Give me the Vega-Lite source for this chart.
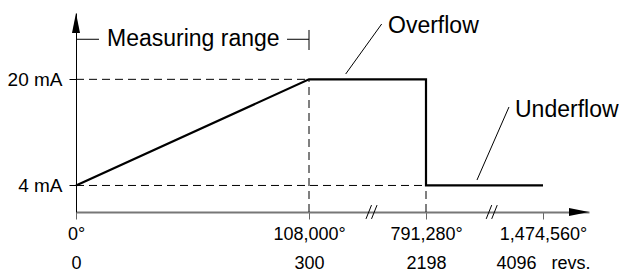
{
  "$schema": "https://vega.github.io/schema/vega-lite/v6.json",
  "autosize": "none",
  "width": 513,
  "height": 199,
  "padding": {"left": 76, "top": 13, "right": 30, "bottom": 59},
  "config": {"view": {"stroke": null}, "font": "Liberation Sans"},
  "datasets": {
    "curve": [
      {"x": 0, "y": 4, "o": 1},
      {"x": 300, "y": 20, "o": 2},
      {"x": 2198, "y": 20, "o": 3},
      {"x": 2198, "y": 4, "o": 4},
      {"x": 4096, "y": 4, "o": 5}
    ],
    "dashed": [
      {"x": 0, "x2": 2198, "y": 4, "y2": 4},
      {"x": 0, "x2": 300, "y": 20, "y2": 20},
      {"x": 300, "x2": 300, "y": 0, "y2": 20},
      {"x": 2198, "x2": 2198, "y": 0, "y2": 4}
    ],
    "leaders": [
      {"x": 895, "y": 20.8, "x2": 1479, "y2": 28.34},
      {"x": 3025, "y": 4.82, "x2": 3544, "y2": 15.83},
      {"x": 0, "y": 26.04, "x2": 29.6, "y2": 26.04},
      {"x": 271.7, "y": 26.04, "x2": 300, "y2": 26.04},
      {"x": 300, "y": 24.42, "x2": 300, "y2": 27.44}
    ],
    "notes": [
      {"x": 39.9, "y": 25.07, "text": "Measuring range"},
      {"x": 1582, "y": 26.99, "text": "Overflow"},
      {"x": 3642, "y": 14.37, "text": "Underflow"}
    ],
    "breaks": [{"x": 1314, "y": 0}, {"x": 3264, "y": 0}],
    "arrowUp": [{"x": 0, "y": 30}],
    "arrowRight": [{"x": 4842, "y": 0}]
  },
  "encoding": {
    "x": {
      "field": "x",
      "type": "quantitative",
      "title": null,
      "scale": {"type": "linear", "domain": [0, 300, 2198, 4096, 4842], "range": [0, 233, 350, 467, 513], "nice": false, "zero": false},
      "axis": {
        "values": [0, 300, 2198, 4096],
        "grid": false,
        "domainColor": "#777777",
        "domainWidth": 2,
        "tickColor": "#666666",
        "tickSize": 7,
        "tickWidth": 1,
        "labelFontSize": 18,
        "labelColor": "#000000",
        "labelFont": "Liberation Sans",
        "labelPadding": 6,
        "labelLineHeight": 29,
        "labelBaseline": "top",
        "labelOverlap": false,
        "labelBound": false,
        "labelFlush": false,
        "labelExpr": "[format(datum.value * 360, ',') + '°', datum.value == 4096 ? '\u00a0\u00a0\u00a04096\u00a0\u00a0\u00a0revs.' : format(datum.value, 'd')]"
      }
    },
    "y": {
      "field": "y",
      "type": "quantitative",
      "title": null,
      "scale": {"domain": [0, 30], "nice": false, "zero": false},
      "axis": {
        "values": [4, 20],
        "grid": false,
        "domainColor": "#000000",
        "domainWidth": 1,
        "tickColor": "#000000",
        "tickSize": 7,
        "labelFontSize": 19,
        "labelColor": "#000000",
        "labelFont": "Liberation Sans",
        "labelPadding": 7,
        "labelExpr": "datum.value + ' mA'"
      }
    }
  },
  "layer": [
    {
      "data": {"name": "dashed"},
      "mark": {"type": "rule", "color": "#000000", "strokeWidth": 1, "strokeDash": [8, 5]},
      "encoding": {"x2": {"field": "x2"}, "y2": {"field": "y2"}}
    },
    {
      "data": {"name": "curve"},
      "mark": {"type": "line", "color": "#000000", "strokeWidth": 2.2, "strokeJoin": "miter"},
      "encoding": {"order": {"field": "o", "type": "quantitative"}}
    },
    {
      "data": {"name": "leaders"},
      "mark": {"type": "rule", "color": "#000000", "strokeWidth": 1},
      "encoding": {"x2": {"field": "x2"}, "y2": {"field": "y2"}}
    },
    {
      "data": {"name": "notes"},
      "mark": {"type": "text", "align": "left", "baseline": "alphabetic", "fontSize": 23, "color": "#000000", "font": "Liberation Sans"},
      "encoding": {"text": {"field": "text"}}
    },
    {
      "data": {"name": "breaks"},
      "mark": {"type": "point", "shape": "M-0.8,1L0,-1M0,1L0.8,-1", "size": 190, "filled": false, "stroke": "#000000", "strokeWidth": 1, "opacity": 1}
    },
    {
      "data": {"name": "arrowUp"},
      "mark": {"type": "point", "shape": "M0,0L0.4,2L-0.4,2Z", "size": 400, "filled": true, "color": "#000000", "opacity": 1}
    },
    {
      "data": {"name": "arrowRight"},
      "mark": {"type": "point", "shape": "M0,0L-2,-0.4L-2,0.4Z", "size": 400, "filled": true, "color": "#000000", "opacity": 1}
    }
  ]
}
